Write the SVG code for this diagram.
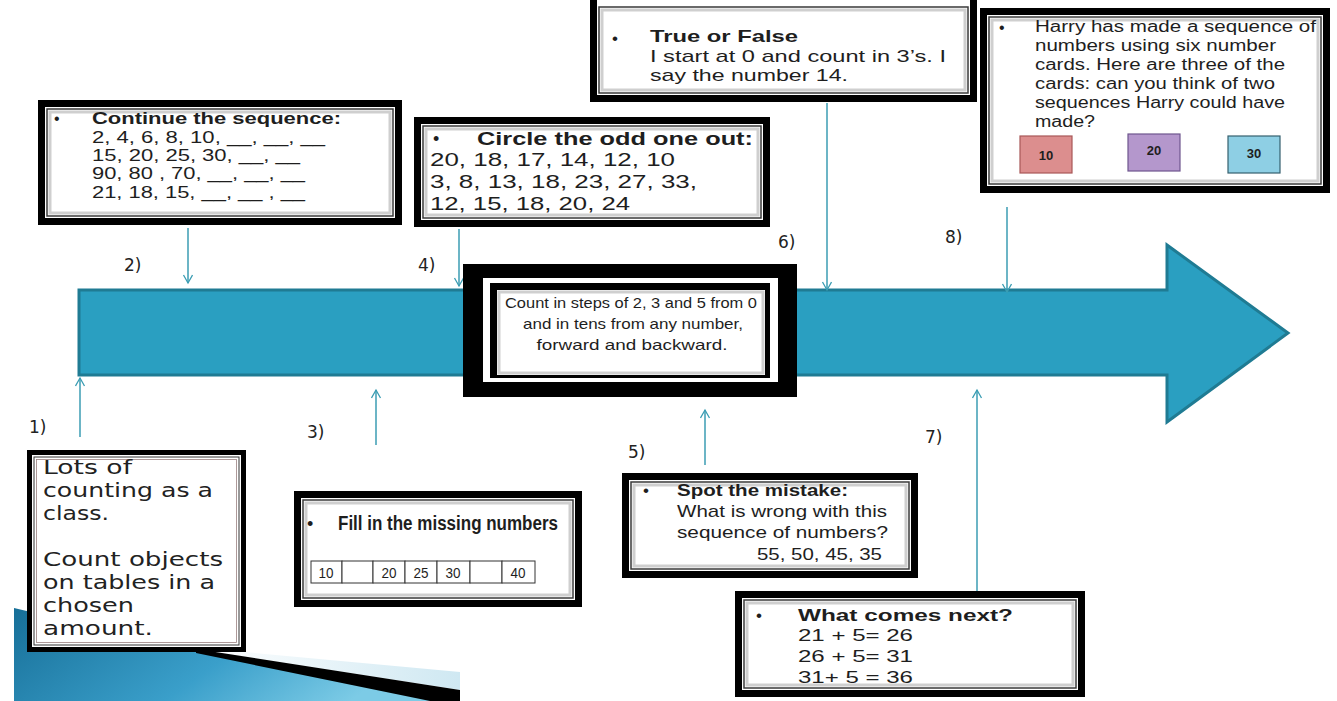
<svg xmlns="http://www.w3.org/2000/svg" width="1337" height="701" viewBox="0 0 1337 701">
<style>
.t{font-family:"Liberation Sans",Arial,sans-serif;fill:#1e1e1e}
.b{font-weight:bold}
.h{font-family:"DejaVu Sans","Liberation Sans",sans-serif;fill:#222}
.lab{font-family:"DejaVu Sans","Liberation Sans",sans-serif;font-size:17px;fill:#222}
.con{stroke:#3b9db3;stroke-width:1.5;fill:none;marker-end:url(#ah)}
.fo{fill:#fff;stroke:#000;stroke-width:7}
.fi{fill:none;stroke:#3a3a3a;stroke-width:1.5}
.fs{fill:none;stroke:#cfcfcf;stroke-width:3}
.cell{fill:#fff;stroke:#333;stroke-width:1}
</style>
<defs>
<marker id="ah" markerWidth="12" markerHeight="12" refX="9" refY="5" orient="auto" markerUnits="userSpaceOnUse">
<path d="M1,0.5 L9,5 L1,9.5" fill="none" stroke="#3b9db3" stroke-width="1.3"/>
</marker>
<linearGradient id="sw" x1="0" y1="0" x2="1" y2="0.3">
<stop offset="0" stop-color="#176f98"/>
<stop offset="0.6" stop-color="#3a9fca"/>
<stop offset="1" stop-color="#7ccbe6"/>
</linearGradient>
<linearGradient id="pale" x1="0" y1="0" x2="1" y2="0">
<stop offset="0" stop-color="#ffffff"/>
<stop offset="1" stop-color="#cfe8f2"/>
</linearGradient>
</defs>
<rect width="1337" height="701" fill="#fff"/>

<!-- bottom-left decoration -->
<g id="swoosh">
<polygon points="14,608 200,652 440,701 14,701" fill="url(#sw)"/>
<polygon points="212,649 460,672 460,690 200,650" fill="url(#pale)"/>
<polygon points="196,649 460,690 460,701 430,701 196,653" fill="#000"/>
</g>

<!-- main arrow -->
<g id="timeline-arrow">
<polygon points="79,290 1167,290 1167,245 1288,333 1167,422 1167,375 79,375" fill="#2a9fc1" stroke="#1f7b93" stroke-width="3" stroke-linejoin="miter"/>
</g>

<g id="connectors">
<line class="con" x1="80" y1="437" x2="80" y2="378"/>
<line class="con" x1="188" y1="228" x2="188" y2="283"/>
<line class="con" x1="376" y1="445" x2="376" y2="390"/>
<line class="con" x1="459" y1="229" x2="459" y2="286"/>
<line class="con" x1="705" y1="465" x2="705" y2="410"/>
<line class="con" x1="827" y1="103" x2="827" y2="290"/>
<line class="con" x1="977" y1="591" x2="977" y2="390"/>
<line class="con" x1="1007" y1="207" x2="1007" y2="292"/>
</g>

<g id="labels">
<text class="lab" x="29" y="433">1)</text>
<text class="lab" x="124" y="271">2)</text>
<text class="lab" x="307" y="438">3)</text>
<text class="lab" x="418" y="271">4)</text>
<text class="lab" x="628" y="458">5)</text>
<text class="lab" x="778" y="248">6)</text>
<text class="lab" x="925" y="443">7)</text>
<text class="lab" x="945" y="243">8)</text>
</g>

<!-- central box -->
<g id="center-box">
<rect x="463" y="264" width="334" height="133" fill="#000"/>
<rect x="483" y="278" width="295" height="104" fill="#fff"/>
<rect x="490" y="283" width="280" height="95" fill="#000"/>
<rect x="497" y="290" width="268" height="85" fill="#fff"/>
<rect x="499" y="292" width="264" height="81" class="fs"/>
<text class="t" font-size="15" text-anchor="middle" x="631" y="308" textLength="252" lengthAdjust="spacingAndGlyphs">Count in steps of 2, 3 and 5 from 0</text>
<text class="t" font-size="15" text-anchor="middle" x="633" y="329" textLength="220" lengthAdjust="spacingAndGlyphs">and in tens from any number,</text>
<text class="t" font-size="15" text-anchor="middle" x="632" y="350" textLength="191" lengthAdjust="spacingAndGlyphs">forward and backward.</text>
</g>

<!-- 1) -->
<g id="box1">
<rect x="29.5" y="452.5" width="214" height="197" fill="#fff" stroke="#000" stroke-width="5"/>
<rect x="34" y="457" width="205" height="188" fill="none" stroke="#333" stroke-width="1"/>
<rect x="36.5" y="459.5" width="200" height="183" fill="none" stroke="#9a8080" stroke-width="0.8"/>
<g class="h" font-size="19">
<text x="43" y="474" textLength="89" lengthAdjust="spacingAndGlyphs">Lots of</text>
<text x="43" y="497" textLength="170" lengthAdjust="spacingAndGlyphs">counting as a</text>
<text x="43" y="520" textLength="66" lengthAdjust="spacingAndGlyphs">class.</text>
<text x="43" y="566" textLength="180" lengthAdjust="spacingAndGlyphs">Count objects</text>
<text x="43" y="589" textLength="172" lengthAdjust="spacingAndGlyphs">on tables in a</text>
<text x="43" y="612" textLength="91" lengthAdjust="spacingAndGlyphs">chosen</text>
<text x="43" y="635" textLength="110" lengthAdjust="spacingAndGlyphs">amount.</text>
</g>
</g>

<!-- 2) -->
<g id="box2">
<rect class="fo" x="41.5" y="103.5" width="357" height="118"/>
<rect class="fi" x="47" y="109" width="346" height="107"/>
<rect class="fs" x="50" y="112" width="340" height="101"/>
<text class="t" font-size="16" x="54" y="124">•</text>
<text class="t b" font-size="16" x="92" y="124" textLength="249" lengthAdjust="spacingAndGlyphs">Continue the sequence:</text>
<text class="t" font-size="16" x="92" y="143" textLength="233" lengthAdjust="spacingAndGlyphs">2, 4, 6, 8, 10, __, __, __</text>
<text class="t" font-size="16" x="92" y="161" textLength="208" lengthAdjust="spacingAndGlyphs">15, 20, 25, 30, __, __</text>
<text class="t" font-size="16" x="92" y="179" textLength="213" lengthAdjust="spacingAndGlyphs">90, 80 , 70, __, __, __</text>
<text class="t" font-size="16" x="92" y="198" textLength="213" lengthAdjust="spacingAndGlyphs">21, 18, 15, __, __ , __</text>
</g>

<!-- 3) -->
<g id="box3">
<rect class="fo" x="297.5" y="494.5" width="281" height="109"/>
<rect class="fi" x="303" y="500" width="270" height="98"/>
<rect class="fs" x="306" y="503" width="264" height="92"/>
<text class="t" font-size="18" x="307" y="530">•</text>
<text class="t b" font-size="20" x="338" y="530" textLength="220" lengthAdjust="spacingAndGlyphs">Fill in the missing numbers</text>
<g>
<rect class="cell" x="311" y="561" width="31" height="22"/>
<rect class="cell" x="342" y="561" width="31" height="22"/>
<rect class="cell" x="373" y="561" width="32" height="22"/>
<rect class="cell" x="405" y="561" width="32" height="22"/>
<rect class="cell" x="437" y="561" width="33" height="22"/>
<rect class="cell" x="470" y="561" width="32" height="22"/>
<rect class="cell" x="502" y="561" width="33" height="22"/>
</g>
<g class="t" font-size="15" text-anchor="middle">
<text x="326" y="578" textLength="15" lengthAdjust="spacingAndGlyphs">10</text>
<text x="389" y="578" textLength="15" lengthAdjust="spacingAndGlyphs">20</text>
<text x="421" y="578" textLength="15" lengthAdjust="spacingAndGlyphs">25</text>
<text x="453" y="578" textLength="15" lengthAdjust="spacingAndGlyphs">30</text>
<text x="518" y="578" textLength="15" lengthAdjust="spacingAndGlyphs">40</text>
</g>
</g>

<!-- 4) -->
<g id="box4">
<rect class="fo" x="417.5" y="120.5" width="349" height="103"/>
<rect class="fi" x="423" y="126" width="338" height="92"/>
<rect class="fs" x="426" y="129" width="332" height="86"/>
<text class="t" font-size="18" x="433" y="145">•</text>
<text class="t b" font-size="19" x="477" y="145" textLength="276" lengthAdjust="spacingAndGlyphs">Circle the odd one out:</text>
<text class="t" font-size="19" x="430" y="166" textLength="245" lengthAdjust="spacingAndGlyphs">20, 18, 17, 14, 12, 10</text>
<text class="t" font-size="19" x="430" y="188" textLength="267" lengthAdjust="spacingAndGlyphs">3, 8, 13, 18, 23, 27, 33,</text>
<text class="t" font-size="19" x="430" y="210" textLength="200" lengthAdjust="spacingAndGlyphs">12, 15, 18, 20, 24</text>
</g>

<!-- 5) -->
<g id="box5">
<rect class="fo" x="625.5" y="476.5" width="289" height="98"/>
<rect class="fi" x="631" y="482" width="278" height="87"/>
<rect class="fs" x="634" y="485" width="272" height="81"/>
<text class="t" font-size="17" x="643" y="496">•</text>
<text class="t b" font-size="17" x="677" y="496" textLength="171" lengthAdjust="spacingAndGlyphs">Spot the mistake:</text>
<text class="t" font-size="17" x="677" y="517" textLength="210" lengthAdjust="spacingAndGlyphs">What is wrong with this</text>
<text class="t" font-size="17" x="677" y="538" textLength="211" lengthAdjust="spacingAndGlyphs">sequence of numbers?</text>
<text class="t" font-size="17" x="757" y="560" textLength="125" lengthAdjust="spacingAndGlyphs">55, 50, 45, 35</text>
</g>

<!-- 6) -->
<g id="box6">
<rect class="fo" x="593.5" y="-5" width="380" height="103.5"/>
<rect class="fi" x="599" y="7" width="369" height="86"/>
<rect class="fs" x="602" y="10" width="363" height="80"/>
<text class="t" font-size="17" x="612" y="44">•</text>
<text class="t b" font-size="17" x="650" y="42" textLength="148" lengthAdjust="spacingAndGlyphs">True or False</text>
<text class="t" font-size="17" x="650" y="62" textLength="296" lengthAdjust="spacingAndGlyphs">I start at 0 and count in 3’s. I</text>
<text class="t" font-size="17" x="650" y="81" textLength="198" lengthAdjust="spacingAndGlyphs">say the number 14.</text>
</g>

<!-- 7) -->
<g id="box7">
<rect class="fo" x="738.5" y="594.5" width="343" height="99"/>
<rect class="fi" x="744" y="600" width="332" height="88"/>
<rect class="fs" x="747" y="603" width="326" height="82"/>
<text class="t" font-size="17" x="756" y="621">•</text>
<text class="t b" font-size="17" x="798" y="621" textLength="215" lengthAdjust="spacingAndGlyphs">What comes next?</text>
<text class="t" font-size="17" x="798" y="641" textLength="115" lengthAdjust="spacingAndGlyphs">21 + 5= 26</text>
<text class="t" font-size="17" x="798" y="662" textLength="115" lengthAdjust="spacingAndGlyphs">26 + 5= 31</text>
<text class="t" font-size="17" x="798" y="683" textLength="115" lengthAdjust="spacingAndGlyphs">31+ 5 = 36</text>
</g>

<!-- 8) -->
<g id="box8">
<rect class="fo" x="983.5" y="11.5" width="343" height="178"/>
<rect class="fi" x="989" y="17" width="332" height="167"/>
<rect class="fs" x="992" y="20" width="326" height="161"/>
<text class="t" font-size="16" x="999" y="33">•</text>
<g class="t" font-size="16" fill="#2a2a2a">
<text x="1035" y="32" textLength="281" lengthAdjust="spacingAndGlyphs">Harry has made a sequence of</text>
<text x="1035" y="51" textLength="241" lengthAdjust="spacingAndGlyphs">numbers using six number</text>
<text x="1035" y="70" textLength="250" lengthAdjust="spacingAndGlyphs">cards. Here are three of the</text>
<text x="1035" y="89" textLength="240" lengthAdjust="spacingAndGlyphs">cards: can you think of two</text>
<text x="1035" y="108" textLength="250" lengthAdjust="spacingAndGlyphs">sequences Harry could have</text>
<text x="1035" y="127" textLength="60" lengthAdjust="spacingAndGlyphs">made?</text>
</g>
<rect x="1020" y="136" width="52" height="37" fill="#dc8e8e" stroke="#a85858" stroke-width="1.2"/>
<rect x="1128" y="134" width="52" height="37" fill="#b497cc" stroke="#6e568e" stroke-width="1.2"/>
<rect x="1228" y="136" width="52" height="37" fill="#8ecfe4" stroke="#35606e" stroke-width="1.2"/>
<text class="t b" font-size="13" x="1046" y="160" text-anchor="middle">10</text>
<text class="t b" font-size="13" x="1154" y="155" text-anchor="middle">20</text>
<text class="t b" font-size="13" x="1254" y="158" text-anchor="middle">30</text>
</g>
</svg>
